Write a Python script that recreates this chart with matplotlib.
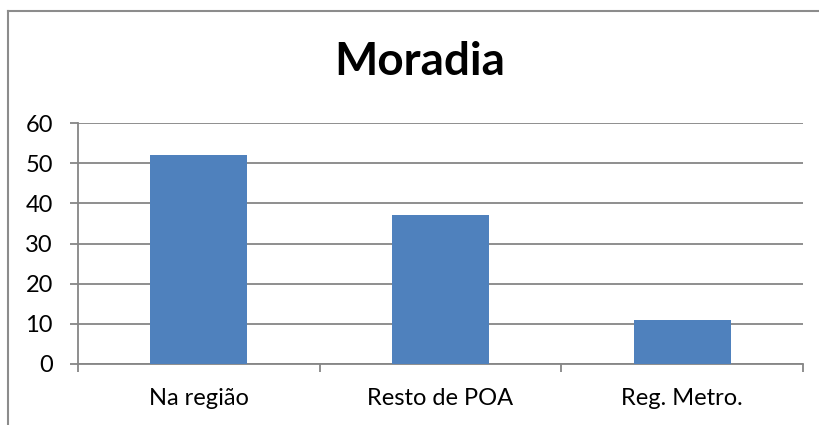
import matplotlib.pyplot as plt
from matplotlib.lines import Line2D

categories = ["Na região", "Resto de POA", "Reg. Metro."]
values = [52, 37, 11]
yticks = [0, 10, 20, 30, 40, 50, 60]

plt.rcParams['font.family'] = ['Lato', 'DejaVu Sans']
gray = '#868686'

fig = plt.figure(figsize=(8.19, 4.25), dpi=100)
ax = fig.add_axes([78 / 819, 1 - 364 / 425, (803 - 78) / 819, (364 - 123) / 425])

x = list(range(len(categories)))
ax.bar(x, values, width=0.4, color='#4F81BD', zorder=3)

ax.set_xlim(-0.5, len(categories) - 0.5)
ax.set_ylim(0, 60)
ax.set_yticks(yticks)
ax.set_yticklabels([str(v) for v in yticks], fontsize=17)
ax.yaxis.grid(True, color=gray, linewidth=1.3, zorder=0)
ax.set_axisbelow(True)

ax.set_xticks(x)
ax.set_xticklabels(categories, fontsize=17)
ax.tick_params(axis='x', length=0, pad=17)
ax.set_xticks([i - 0.5 for i in range(len(categories) + 1)], minor=True)
ax.tick_params(axis='x', which='minor', length=6, width=1.3, color=gray, direction='out')
ax.tick_params(axis='y', length=6, width=1.3, color=gray, pad=12)

for s in ['top', 'right']:
    ax.spines[s].set_visible(False)
for s in ['left', 'bottom']:
    ax.spines[s].set_color(gray)
    ax.spines[s].set_linewidth(1.3)

fig.text(420 / 819, 1 - 62 / 425, "Moradia", fontsize=33, fontweight='bold',
         ha='center', va='center')

# chart border (only left and top edges are inside the picture)
fig.add_artist(Line2D([8 / 819, 8 / 819], [0, 1 - 11 / 425], transform=fig.transFigure,
                      color='#8c8c8c', linewidth=1.5))
fig.add_artist(Line2D([8 / 819, 1], [1 - 11 / 425, 1 - 11 / 425], transform=fig.transFigure,
                      color='#8c8c8c', linewidth=1.5))

fig.savefig('out.png', dpi=100)
